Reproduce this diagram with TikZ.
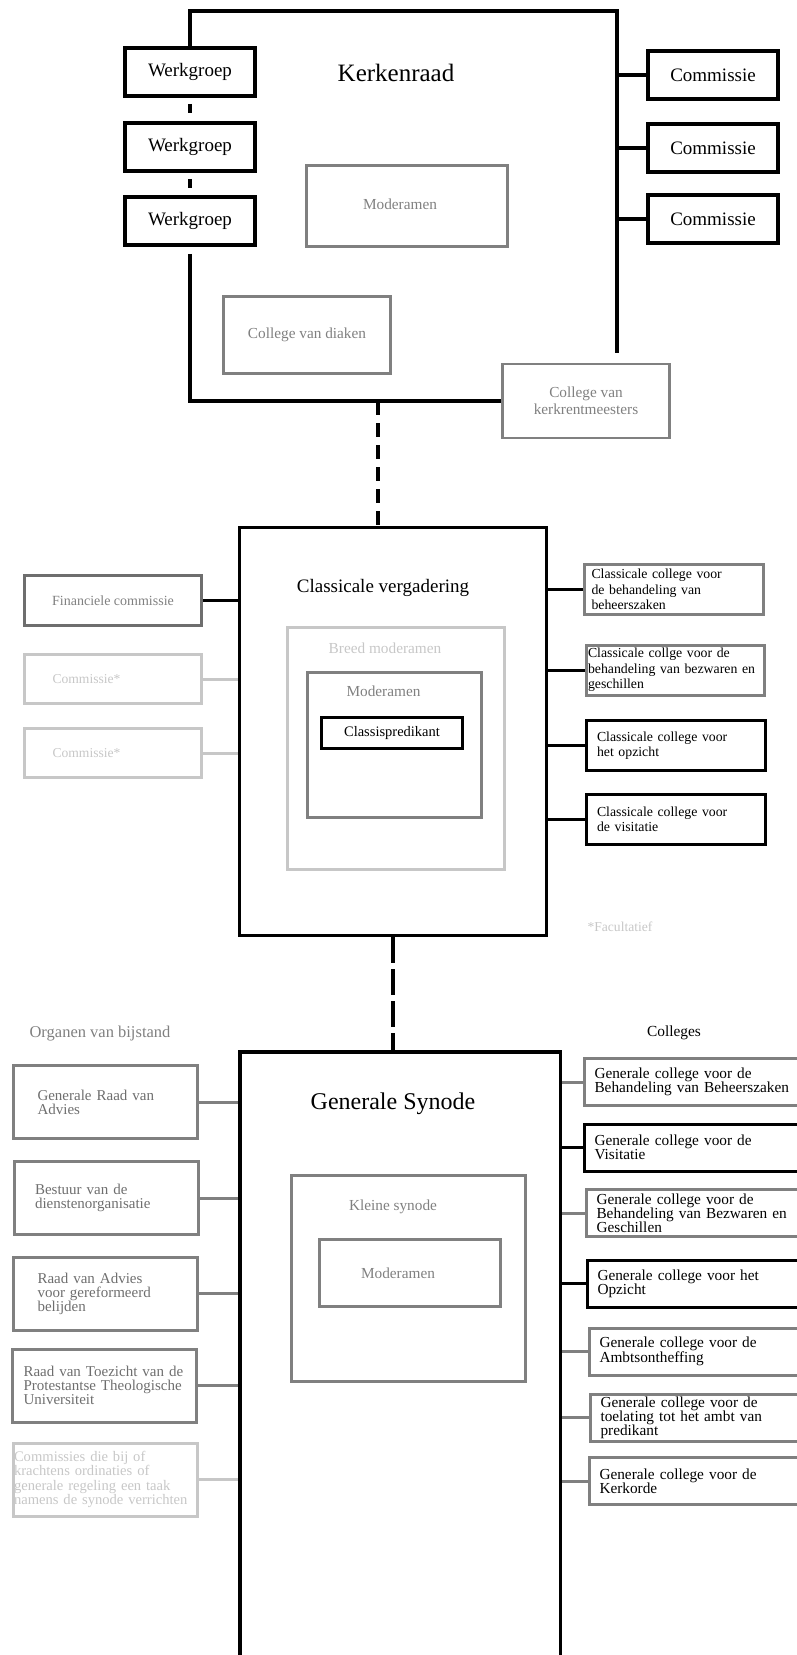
\documentclass[tikz,border=0pt]{standalone}
\usepackage{fontspec}
\setmainfont{Liberation Serif}
\usepackage{tikz}
\definecolor{mgray}{rgb}{0.5, 0.5, 0.5}
\definecolor{dgray}{rgb}{0.43, 0.43, 0.43}
\definecolor{lgray}{rgb}{0.78, 0.78, 0.78}
\tikzset{frame/.style = {line width=3.4pt},
         link/.style = {line width=3pt},
         txt/.style = {font=\fontsize{#1}{#1}\selectfont},
         blackbox/.style = {draw, line width=3.5pt, inner sep=0pt,
                            minimum width=130, minimum height=48,
                            font=\fontsize{19}{22}\selectfont},
         graybox/.style = {draw=mgray, line width=2.8pt, text=mgray, inner sep=0pt,
                           font=\fontsize{15.3}{17}\selectfont},
         lightbox/.style = {draw=lgray, line width=2.8pt, text=lgray, inner sep=0pt},
         ccbox/.style = {draw, line width=3pt, align=left, minimum height=50,
                         text width=165pt, inner xsep=7pt, inner ysep=2pt,
                         font=\fontsize{13.8}{15.5}\selectfont},
         orgbox/.style = {draw=mgray, line width=3pt, text=dgray, align=left,
                          minimum height=73, text width=136pt, inner xsep=24pt,
                          font=\fontsize{15}{14}\selectfont},
         gcbox/.style = {draw, line width=3pt, align=left, minimum height=47,
                         text width=200pt, inner xsep=10pt, inner ysep=2pt,
                         font=\fontsize{15.3}{14}\selectfont}}

\begin{document}
\begin{tikzpicture}[x=1pt, y=-1pt]
  \useasboundingbox (0, 0) rectangle (797, 1655);
  % Kerkenraad
  \node [txt=25] (kr) at (396, 73) {Kerkenraad};
  \foreach \i/\y in {1/72, 2/147, 3/221} {
    \node [blackbox] (wg\i) at (190, \y) {Werkgroep};
  }
  \foreach \i/\y in {1/75, 2/148, 3/219} {
    \node [blackbox] (cm\i) at (713, \y) {Commissie};
  }
  \node [graybox, minimum width=201, minimum height=81] (mod1) at (407, 206) {};
  \node [txt=15.3, text=mgray] (mod1t) at (400, 204) {Moderamen};
  \node [graybox, minimum width=167, minimum height=77] (cvd) at (307, 335) {College van diaken};
  \node [graybox, align=center, minimum width=167, minimum height=74] (kvk) at (586, 401) {College van\\kerkrentmeesters};
  \coordinate (ktl) at (190, 11);
  \coordinate (ktr) at (617, 11);
  \coordinate (kb) at (378, 401);
  \draw [frame] (wg1.north) -- (ktl) -- (ktr) -- ++(0, 342);
  \draw [frame] ([yshift=-6pt]wg1.south) -- ([yshift=8pt]wg2.north);
  \draw [frame] ([yshift=-6pt]wg2.south) -- ([yshift=7pt]wg3.north);
  \draw [frame] ([yshift=-7pt]wg3.south) |- (kvk.west);
  \foreach \i in {1, 2, 3} {
    \draw [frame] (cm\i.west) -- (cm\i.west -| ktr);
  }

  % Classicale vergadering
  \node [blackbox, minimum width=307, minimum height=408] (cv) at (393, 731.5) {};
  \draw [frame, dash pattern=on 14pt off 8pt] (kb) -- (kb |- cv.north);
  \node [txt=19] (cvt) at (383, 588) {Classicale vergadering};
  \node [lightbox, minimum width=217, minimum height=242] (bm) at (396, 748.5) {};
  \node [txt=15.3, text=lgray] (bmt) at (385, 648) {Breed moderamen};
  \node [graybox, minimum width=174, minimum height=145] (mod2) at (394.5, 745) {};
  \node [txt=15.3, text=mgray] (mod2t) at (383.5, 691) {Moderamen};
  \node [blackbox, line width=3pt, minimum width=141, minimum height=31, txt=14.5] (cp) at (392, 733) {Classispredikant};
  \node [graybox, draw=dgray, line width=3.2pt, minimum width=177, minimum height=50, txt=14] (fin) at (113, 600.5) {Financiele commissie};
  \draw [link] (fin.east) -- (fin.east -| cv.west);
  \foreach \i/\y in {1/679, 2/753} {
    \node [lightbox, align=left, text width=121pt, inner xsep=28pt, minimum height=49, txt=13.6] (oc\i) at (113, \y) {Commissie*};
    \draw [link, lgray] (oc\i.east) -- (oc\i.east -| cv.west);
  }
  \node [ccbox, draw=mgray] (cc1) at (674, 589.5) {Classicale college voor\\de behandeling van\\beheerszaken};
  \node [ccbox, draw=mgray, text width=175pt, inner xsep=1.5pt] (cc2) at (675.5, 670) {Classicale collge voor de\\behandeling van bezwaren en\\geschillen};
  \node [ccbox, text width=157pt, inner xsep=11pt] (cc3) at (675.5, 745.5) {Classicale college voor\\het opzicht};
  \node [ccbox, text width=157pt, inner xsep=11pt] (cc4) at (675.5, 819.5) {Classicale college voor\\de visitatie};
  \foreach \i in {1, ..., 4} {
    \draw [link] (cc\i.west) -- (cc\i.west -| cv.east);
  }
  \node [txt=13.6, text=lgray] (fac) at (620, 927) {*Facultatief};

  % Generale Synode
  \node [blackbox, minimum width=320.5, minimum height=650] (gs) at (400, 1377) {};
  \draw [frame, dash pattern=on 26pt off 6pt] (cv.south) -- (cv.south |- gs.north);
  \node [txt=24] (gst) at (393, 1104) {Generale Synode};
  \node [txt=16.5, text=mgray] (ovb) at (100, 1034) {Organen van bijstand};
  \node [txt=15.4] (col) at (674, 1033) {Colleges};
  \node [graybox, minimum width=234, minimum height=206] (ks) at (408.5, 1278.5) {};
  \node [txt=15.3, text=mgray] (kst) at (393, 1207) {Kleine synode};
  \node [graybox, minimum width=181, minimum height=67] (mod3) at (410, 1273) {};
  \node [txt=15.3, text=mgray] (mod3t) at (398, 1273) {Moderamen};
  \node [orgbox] (ob1) at (105.5, 1102) {Generale Raad van\\Advies};
  \node [orgbox, text width=142pt, inner xsep=21pt] (ob2) at (106, 1198) {Bestuur van de\\dienstenorganisatie};
  \node [orgbox] (ob3) at (105.5, 1293.5) {Raad van Advies\\voor gereformeerd\\belijden};
  \node [orgbox, text width=162pt, inner xsep=11pt] (ob4) at (104.5, 1385.5) {Raad van Toezicht van de\\Protestantse Theologische\\Universiteit};
  \node [orgbox, draw=lgray, text=lgray, text width=183pt, inner xsep=0.5pt, txt=14.6] (ob5) at (105.5, 1479.5) {Commissies die bij of\\krachtens ordinaties of\\generale regeling een taak\\namens de synode verrichten};
  \foreach \i in {1, ..., 4} {
    \draw [link, mgray] (ob\i.east) -- (ob\i.east -| gs.west);
  }
  \draw [link, lgray] (ob5.east) -- (ob5.east -| gs.west);
  \node [gcbox, draw=mgray] (gc1) at (694.5, 1082) {Generale college voor de\\Behandeling van Beheerszaken};
  \node [gcbox] (gc2) at (694.5, 1147.5) {Generale college voor de\\Visitatie};
  \node [gcbox, draw=mgray] (gc3) at (696.5, 1213) {Generale college voor de\\Behandeling van Bezwaren en\\Geschillen};
  \node [gcbox] (gc4) at (697.5, 1283.5) {Generale college voor het\\Opzicht};
  \node [gcbox, draw=mgray] (gc5) at (699.5, 1351.5) {Generale college voor de\\Ambtsontheffing};
  \node [gcbox, draw=mgray] (gc6) at (700.5, 1417.5) {Generale college voor de\\toelating tot het ambt van\\predikant};
  \node [gcbox, draw=mgray] (gc7) at (699.5, 1481) {Generale college voor de\\Kerkorde};
  \foreach \i/\c in {1/mgray, 2/black, 3/mgray, 4/black, 5/mgray, 6/mgray, 7/mgray} {
    \draw [link, color=\c] (gc\i.west) -- (gc\i.west -| gs.east);
  }
\end{tikzpicture}
\end{document}
